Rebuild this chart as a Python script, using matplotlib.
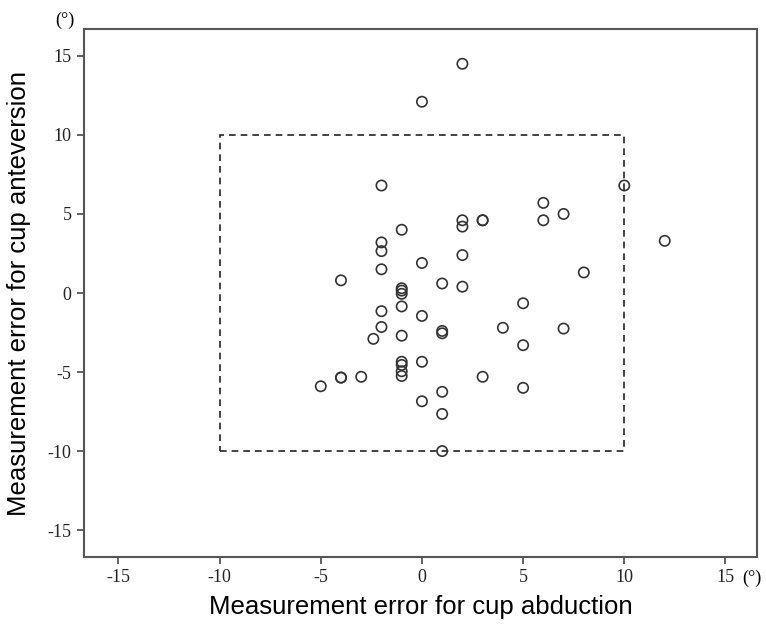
import matplotlib
matplotlib.use('Agg')
import matplotlib.pyplot as plt
import matplotlib.patches as patches
import matplotlib.ticker as ticker

# measurement errors (degrees): abduction (x) vs anteversion (y)
abduction = [
    0, 2,
    -2, 2, 2, 3, 3, 6, 7, 10, -1, -2, -2, 2, 0, -2, 12, 6, 8,
    -4, 1, 2, -1, -1, -1, -1, -2, 0, 5, -2, 1, 1, -1, -2.4, 4, 7, 5,
    -1, -1, -1, -1, 0, -5, -4, -4, -3, 3, 1, 5, 0, 1, 1,
]
anteversion = [
    12.1, 14.5,
    6.8, 4.6, 4.2, 4.6, 4.6, 5.7, 5.0, 6.8, 4.0, 3.2, 2.65, 2.4, 1.9, 1.5, 3.3, 4.6, 1.3,
    0.8, 0.6, 0.4, 0.3, 0.15, -0.05, -0.85, -1.15, -1.45, -0.65, -2.15, -2.4, -2.55, -2.7, -2.9, -2.2, -2.25, -3.3,
    -4.35, -4.55, -4.95, -5.25, -4.35, -5.9, -5.35, -5.35, -5.3, -5.3, -6.25, -6.0, -6.85, -7.65, -10.0,
]
ticks = [-15, -10, -5, 0, 5, 10, 15]
box_lo, box_hi = -10, 10

fig = plt.figure(figsize=(7.66, 6.25), dpi=100)
ax = fig.add_axes([0.1097, 0.1088, 0.8783, 0.8448])

ax.scatter(abduction, anteversion, s=55, facecolors='none', edgecolors='#333333', linewidths=1.2, zorder=3)

# dashed reference box
rect = patches.Rectangle((box_lo, box_lo), box_hi - box_lo, box_hi - box_lo,
                         fill=False, linestyle=(0, (4, 3)), linewidth=1.2, edgecolor='#222222')
ax.add_patch(rect)

ax.set_xlim(-16.7, 16.55)
ax.set_ylim(-16.7, 16.7)
ax.xaxis.set_major_locator(ticker.FixedLocator(ticks))
ax.yaxis.set_major_locator(ticker.FixedLocator(ticks))
ax.xaxis.set_major_formatter(ticker.FuncFormatter(lambda v, p: f'{v:.0f}'))
ax.yaxis.set_major_formatter(ticker.FuncFormatter(lambda v, p: f'{v:.0f}'))

for lab in ax.get_xticklabels() + ax.get_yticklabels():
    lab.set_family('Liberation Serif')
    lab.set_fontsize(13)
    lab.set_color('#222222')
ax.tick_params(direction='out', length=5, width=1.3, color='#555555', pad=4)

for sp in ax.spines.values():
    sp.set_color('#555555')
    sp.set_linewidth(1.5)

ax.set_xlabel('Measurement error for cup abduction', family='Liberation Sans', fontsize=18.5, labelpad=6)
ax.set_ylabel('Measurement error for cup anteversion', family='Liberation Sans', fontsize=18.5, labelpad=12)

fig.text(0.085, 0.967, '(°)', family='Liberation Serif', fontsize=13, ha='center', va='center')
fig.text(0.982, 0.075, '(°)', family='Liberation Serif', fontsize=13, ha='center', va='center')

fig.savefig('out.png', dpi=100)
